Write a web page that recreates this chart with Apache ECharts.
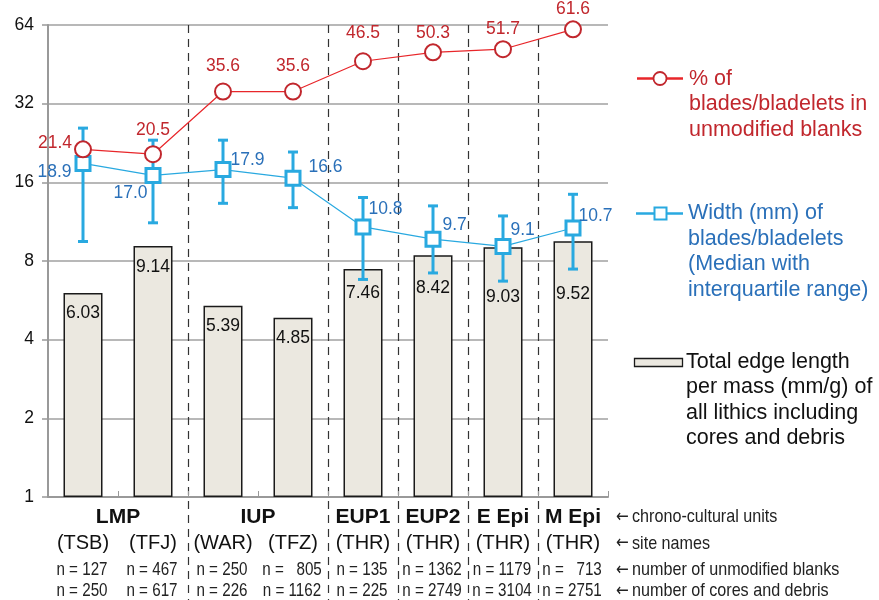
<!DOCTYPE html>
<html><head><meta charset="utf-8">
<script src="https://cdn.jsdelivr.net/npm/echarts@6/dist/echarts.min.js"></script>
<style>html,body{margin:0;padding:0;background:#fff}#c{width:879px;height:600px}</style>
</head><body><div id="c"></div>
<script>
// ---------- data ----------
const siteNames = ['(TSB)','(TFJ)','(WAR)','(TFZ)','(THR)','(THR)','(THR)','(THR)'];
const unitNames = ['LMP','IUP','EUP1','EUP2','E Epi','M Epi'];
const unitFirst = [0,2,4,5,6,7];
const unitLast  = [1,3,4,5,6,7];
const nBlanks = [127,467,250,805,135,1362,1179,713];
const nCores  = [250,617,226,1162,225,2749,3104,2751];
const edgeLength = [6.03,9.14,5.39,4.85,7.46,8.42,9.03,9.52];
const bladePct = [21.4,20.5,35.6,35.6,46.5,50.3,51.7,61.6];
const widthMedian = [18.9,17.0,17.9,16.6,10.8,9.7,9.1,10.7];
const widthQ1 = [9.5,11.2,13.3,12.8,6.8,7.2,6.7,7.45];
const widthQ3 = [25.8,23.2,23.2,20.9,14.0,13.0,11.9,14.4];
const rowNotes = ['chrono-cultural units','site names','number of unmodified blanks','number of cores and debris'];
const legendRed = ['% of','blades/bladelets in','unmodified blanks'];
const legendBlue = ['Width (mm) of','blades/bladelets','(Median with','interquartile range)'];
const legendBar = ['Total edge length','per mass (mm/g) of','all lithics including','cores and debris'];
const separatorAfter = [1,3,4,5,6];

// ---------- label layout (not data) ----------
const redLabelPos = ['left','top','top','top','top','top','top','top'];
const redLabelOff = [[3,-6],[0,-1],[0,-2.5],[0,-2.5],[0,-5],[0,4],[0,3],[0,3]];
const blueLabelPos = ['left','left','right','right','right','right','right','right'];
const blueLabelOff = [[2,9],[8,18],[-6,-9],[2,-11],[-8,-18],[-4,-14],[-6,-16],[-8,-12]];
const barLabelOff = [0,1,0,0,4,13,30,33];

const F = '"Liberation Sans", Arial, sans-serif';
const RED = '#e8262a', RED_D = '#c1272d', BLUE = '#29a9e0', BLUE_T = '#2a70b9';
const NARROW = 0.8;

const pad = (a, b) => ' '.repeat(2 * Math.max(0, String(b).length - String(a).length));

const chart = echarts.init(document.getElementById('c'), null, {renderer: 'canvas'});

const option = {
  animation: false,
  backgroundColor: '#fff',
  textStyle: {fontFamily: F},
  grid: {left: 48, right: 271, top: 25, bottom: 103, containLabel: false},
  xAxis: {
    type: 'category',
    data: siteNames,
    boundaryGap: true,
    axisLine: {lineStyle: {color: '#999', width: 2}},
    axisTick: {show: true, inside: true, length: 6, lineStyle: {color: '#999'}},
    axisLabel: {
      interval: 0, margin: 34, color: '#111',
      formatter: v => '{s|' + v + '}',
      rich: {s: {fontFamily: F, fontSize: 20, lineHeight: 24, color: '#111'}}
    },
    splitLine: {show: false}
  },
  yAxis: {
    type: 'log', logBase: 2, min: 1, max: 64,
    axisLine: {show: true, lineStyle: {color: '#999', width: 2}},
    axisTick: {show: true, length: 6, lineStyle: {color: '#999', width: 1.5}},
    axisLabel: {fontFamily: F, fontSize: 17.5, color: '#111', margin: 14},
    splitLine: {lineStyle: {color: '#a0a0a0', width: 1.5}},
    minorTick: {show: false}
  },
  series: [
    {
      type: 'bar', name: 'edge', data: edgeLength.map((v, i) => ({
        value: v, label: {offset: [0, barLabelOff[i]]}
      })),
      barWidth: 39, z: 1,
      itemStyle: {color: '#ebe8e0', borderColor: '#1a1a1a', borderWidth: 1.5},
      label: {show: true, position: 'insideTop', distance: 11, fontFamily: F, fontSize: 17.5, color: '#111',
        formatter: p => edgeLength[p.dataIndex].toFixed(2)}
    },
    {
      type: 'custom', name: 'iqr', z: 3,
      data: widthQ1.map((q, i) => [i, q, widthQ3[i]]),
      encode: {x: 0, y: [1, 2]},
      renderItem: (params, api) => {
        const i = api.value(0);
        const lo = api.coord([i, api.value(1)]);
        const hi = api.coord([i, api.value(2)]);
        const w = 5, st = {stroke: BLUE, lineWidth: 3};
        return {type: 'group', children: [
          {type: 'line', shape: {x1: lo[0], y1: lo[1], x2: hi[0], y2: hi[1]}, style: st},
          {type: 'line', shape: {x1: lo[0] - w, y1: lo[1], x2: lo[0] + w, y2: lo[1]}, style: st},
          {type: 'line', shape: {x1: hi[0] - w, y1: hi[1], x2: hi[0] + w, y2: hi[1]}, style: st}
        ]};
      }
    },
    {
      type: 'line', name: 'width', z: 4,
      data: widthMedian.map((v, i) => ({
        value: v, label: {position: blueLabelPos[i], offset: blueLabelOff[i]}
      })),
      symbol: 'rect', symbolSize: 14,
      lineStyle: {color: BLUE, width: 1.2},
      itemStyle: {color: '#fff', borderColor: BLUE, borderWidth: 3},
      label: {show: true, fontFamily: F, fontSize: 17.5, color: BLUE_T, distance: 5,
        formatter: p => widthMedian[p.dataIndex].toFixed(1)}
    },
    {
      type: 'line', name: 'pct', z: 5,
      data: bladePct.map((v, i) => ({
        value: v, label: {position: redLabelPos[i], offset: redLabelOff[i]}
      })),
      symbol: 'circle', symbolSize: 16,
      lineStyle: {color: RED, width: 1.2},
      itemStyle: {color: '#fff', borderColor: RED_D, borderWidth: 2},
      label: {show: true, fontFamily: F, fontSize: 17.5, color: RED_D, distance: 5,
        formatter: p => bladePct[p.dataIndex].toFixed(1)}
    }
  ]
};
chart.setOption(option);

// ---------- annotations positioned via the chart's own scales ----------
const px = (i, v) => chart.convertToPixel({xAxisIndex: 0, yAxisIndex: 0}, [i, v]);
const yTop = px(0, 64)[1];
const yBot = px(0, 1)[1];
const xRight = px(siteNames.length - 1, 1)[0] + (px(1, 1)[0] - px(0, 1)[0]) / 2;
const g = [];

separatorAfter.forEach(i => {
  const x = Math.round((px(i, 1)[0] + px(i + 1, 1)[0]) / 2) + 0.5;
  g.push({type: 'line', z: 0, silent: true,
    shape: {x1: x, y1: yTop, x2: x, y2: 600},
    style: {stroke: '#333', lineWidth: 1.2, lineDash: [8, 6]}});
});

const rowY = [yBot + 20, yBot + 46.5, yBot + 73, yBot + 94];

unitNames.forEach((u, k) => {
  const x = (px(unitFirst[k], 1)[0] + px(unitLast[k], 1)[0]) / 2;
  g.push({type: 'text', z: 10, style: {text: u, x: x, y: rowY[0], align: 'center', verticalAlign: 'middle',
    font: 'bold 21px ' + F, fill: '#111'}});
});

siteNames.forEach((s, i) => {
  const x = px(i, 1)[0] - 1;
  g.push({type: 'text', z: 10, x: x, y: rowY[2], scaleX: NARROW,
    style: {text: 'n = ' + pad(nBlanks[i], nCores[i]) + nBlanks[i], x: 0, y: 0, align: 'center', verticalAlign: 'middle',
      font: '19px ' + F, fill: '#222'}});
  g.push({type: 'text', z: 10, x: x, y: rowY[3], scaleX: NARROW,
    style: {text: 'n = ' + pad(nCores[i], nBlanks[i]) + nCores[i], x: 0, y: 0, align: 'center', verticalAlign: 'middle',
      font: '19px ' + F, fill: '#222'}});
});

rowNotes.forEach((t, k) => {
  g.push({type: 'text', z: 10, x: xRight + 8, y: rowY[k], scaleX: 0.85,
    style: {text: '←', x: 0, y: 0, align: 'left', verticalAlign: 'middle',
      font: '18px "DejaVu Sans", sans-serif', fill: '#222'}});
  g.push({type: 'text', z: 10, x: xRight + 24, y: rowY[k], scaleX: 0.85,
    style: {text: t, x: 0, y: 0, align: 'left', verticalAlign: 'middle',
      font: '19px ' + F, fill: '#222'}});
});

// legend
const lx = xRight + 28;
g.push({type: 'line', shape: {x1: lx + 1, y1: 78.5, x2: lx + 47, y2: 78.5}, style: {stroke: RED, lineWidth: 2.5}});
g.push({type: 'circle', shape: {cx: lx + 24, cy: 78.5, r: 6.5}, style: {fill: '#fff', stroke: RED_D, lineWidth: 1.8}});
g.push({type: 'text', style: {text: legendRed.join('\n'), x: lx + 53, y: 66, align: 'left', verticalAlign: 'top',
  font: '21.5px ' + F, lineHeight: 25.5, fill: RED_D}});

g.push({type: 'line', shape: {x1: lx, y1: 213.5, x2: lx + 47, y2: 213.5}, style: {stroke: BLUE, lineWidth: 2.5}});
g.push({type: 'rect', shape: {x: lx + 18.5, y: 207.5, width: 12, height: 12}, style: {fill: '#fff', stroke: BLUE, lineWidth: 2}});
g.push({type: 'text', style: {text: legendBlue.join('\n'), x: lx + 52, y: 200.5, align: 'left', verticalAlign: 'top',
  font: '21.5px ' + F, lineHeight: 25.5, fill: BLUE_T}});

g.push({type: 'rect', shape: {x: lx - 1.5, y: 358.5, width: 48, height: 8}, style: {fill: '#ebe8e0', stroke: '#1a1a1a', lineWidth: 1.3}});
g.push({type: 'text', style: {text: legendBar.join('\n'), x: lx + 50, y: 349.5, align: 'left', verticalAlign: 'top',
  font: '21.5px ' + F, lineHeight: 25.3, fill: '#111'}});

chart.setOption({graphic: {elements: g}});
</script>
</body></html>
